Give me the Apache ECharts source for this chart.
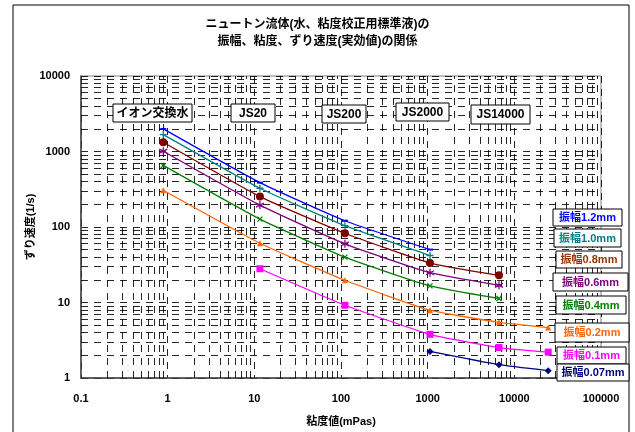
<!DOCTYPE html>
<html>
<head>
<meta charset="utf-8">
<script src="https://cdn.jsdelivr.net/npm/echarts@6/dist/echarts.min.js"></script>
<style>
  html, body { margin: 0; padding: 0; background: #fff; }
  #chart { width: 635px; height: 432px; }
</style>
</head>
<body>
<div id="chart"></div>
<script>
// Viscosity of each sample fluid (mPa·s), x axis
const viscosity = [0.89, 11.6, 111, 1064, 6650, 24600];
const sampleNames = ['イオン交換水', 'JS20', 'JS200', 'JS2000', 'JS14000'];

// Effective shear rate (1/s) for each vibration amplitude
const amp12 = [1990, 387, 121, 50.2, null, null];
const amp10 = [1674, 326, 104, 41.9, null, null];
const amp08 = [1326, 253, 82.6, 33.3, 22.9, null];
const amp06 = [1009, 195, 59.8, 24.8, 16.9, null];
const amp04 = [654, 127, 39.9, 16.6, 11.3, null];
const amp02 = [307, 61, 19.7, 7.9, 5.46, 4.65];
const amp01 = [null, 28, 9.2, 3.79, 2.53, 2.2];
const amp007 = [null, null, null, 2.25, 1.50, 1.25];

const seriesNames = ['振幅1.2mm', '振幅1.0mm', '振幅0.8mm', '振幅0.6mm', '振幅0.4mm', '振幅0.2mm', '振幅0.1mm', '振幅0.07mm'];
const seriesValues = [amp12, amp10, amp08, amp06, amp04, amp02, amp01, amp007];
const lineColors = ['#0000FF', '#008080', '#800000', '#800080', '#008000', '#FF6600', '#FF00FF', '#000080'];
const labelColors = ['#0000FF', '#008080', '#993300', '#800080', '#008000', '#FF6600', '#FF00FF', '#000080'];

const xTicks = [0.1, 1, 10, 100, 1000, 10000, 100000];
const yTicks = [1, 10, 100, 1000, 10000];

// Latin glyphs from Liberation Sans, Japanese glyphs fall back to Noto Sans CJK JP
const FONT = '"Liberation Sans", Arial, "Noto Sans CJK JP", sans-serif';

// marker shapes per series
const markers = [
  { symbol: 'rect', size: [6, 2], fill: true },
  { symbol: 'path://M5,0L5,10M0,5L10,5', size: 7, fill: false },
  { symbol: 'circle', size: 8, fill: true },
  { symbol: 'path://M5,0L5,10M0.7,2.5L9.3,7.5M0.7,7.5L9.3,2.5', size: 8, fill: false },
  { symbol: 'path://M0,0L10,10M0,10L10,0', size: 5, fill: false },
  { symbol: 'triangle', size: 6, fill: true },
  { symbol: 'rect', size: 7, fill: true },
  { symbol: 'diamond', size: 7, fill: true }
];

// minor grid positions (2..9 × 10^k) for the log axes
function minorValues(lo, hi) {
  const out = [];
  for (let e = lo; e < hi; e++) {
    for (let m = 2; m <= 9; m++) out.push(+(m * Math.pow(10, e)).toPrecision(3));
  }
  return out;
}

const gridDash = [7, 6];
const gridLineStyle = { color: '#000', width: 1, type: gridDash, opacity: 0.85 };

const dataSeries = seriesValues.map((vals, i) => {
  const m = markers[i];
  return {
    name: seriesNames[i],
    type: 'line',
    z: 5,
    data: viscosity.map((v, k) => vals[k] == null ? null : [v, vals[k]]).filter(p => p),
    smooth: 0.15,
    symbol: m.symbol,
    symbolSize: m.size,
    showAllSymbol: true,
    lineStyle: { color: lineColors[i], width: 1.3 },
    itemStyle: {
      color: m.fill ? lineColors[i] : 'none',
      borderColor: lineColors[i],
      borderWidth: m.fill ? 0 : 1.3
    },
    emphasis: { disabled: true },
    animation: false
  };
});

const gridSeries = {
  type: 'line',
  data: [],
  z: 1,
  silent: true,
  animation: false,
  markLine: {
    silent: true,
    animation: false,
    symbol: ['none', 'none'],
    label: { show: false },
    lineStyle: gridLineStyle,
    emphasis: { disabled: true },
    data: minorValues(-1, 5).map(v => ({ xAxis: v }))
      .concat(minorValues(0, 4).map(v => ({ yAxis: v })))
  }
};

// white text boxes with a thin black frame
function boxText(left, top, w, h, text, color, size) {
  return {
    type: 'group',
    x: left, y: top,
    z: 100,
    children: [
      { type: 'rect', z: 100, shape: { x: 0, y: 0, width: w, height: h },
        style: { fill: '#fff', stroke: '#000', lineWidth: 1 } },
      { type: 'text', z: 101, x: w / 2, y: h / 2 + 0.5,
        style: { text: text, fill: color, font: 'bold ' + size + 'px ' + FONT,
                 align: 'center', verticalAlign: 'middle' } }
    ]
  };
}

const sampleBoxes = [
  [113, 104, 79, 18],
  [231, 104, 44, 18],
  [322, 105, 44, 18],
  [396, 103, 53, 18],
  [471, 105, 59, 19]
];
const legendBoxes = [
  [553, 209, 69, 17],
  [554, 229, 67, 18],
  [556, 251, 66, 17],
  [553, 273, 75, 18],
  [556, 296, 70, 18],
  [555, 323, 74, 19],
  [557, 347, 69, 17],
  [557, 364, 72, 17]
];

const graphics = [
  { type: 'rect', x: 13, y: 5, z: 0,
    shape: { x: 0, y: 0, width: 616, height: 440 },
    style: { fill: 'none', stroke: '#000', lineWidth: 1 } },
  { type: 'text', left: 'center', top: 19, z: 100,
    style: { text: 'ニュートン流体(水、粘度校正用標準液)の', font: 'bold 12px ' + FONT, fill: '#000' } },
  { type: 'text', left: 'center', top: 36, z: 100,
    style: { text: '振幅、粘度、ずり速度(実効値)の関係', font: 'bold 12px ' + FONT, fill: '#000' } }
];
sampleBoxes.forEach((b, i) => graphics.push(boxText(b[0], b[1], b[2], b[3], sampleNames[i], '#000', 12)));
legendBoxes.forEach((b, i) => graphics.push(boxText(b[0], b[1], b[2], b[3], seriesNames[i], labelColors[i], 11)));

const chart = echarts.init(document.getElementById('chart'), null, { renderer: 'canvas' });
chart.setOption({
  animation: false,
  backgroundColor: '#fff',
  grid: { left: 81, right: 34, top: 76, bottom: 52, show: true, borderColor: '#808080', borderWidth: 1 },
  xAxis: {
    type: 'log',
    logBase: 10,
    min: xTicks[0],
    max: xTicks[xTicks.length - 1],
    name: '粘度値(mPas)',
    nameLocation: 'middle',
    nameGap: 38,
    nameMoveOverlap: false,
    nameTextStyle: { fontFamily: FONT, fontWeight: 'bold', fontSize: 11, color: '#000' },
    axisLine: { lineStyle: { color: '#404040', width: 1.5 } },
    axisTick: { show: false },
    axisLabel: {
      margin: 15, fontFamily: FONT, fontWeight: 'bold', fontSize: 11, color: '#000',
      formatter: v => { const t = xTicks.find(x => Math.abs(Math.log10(x) - Math.log10(v)) < 1e-6); return t == null ? '' : String(t); }
    },
    splitLine: { show: true, lineStyle: gridLineStyle },
    minorTick: { show: false },
    minorSplitLine: { show: false }
  },
  yAxis: {
    type: 'log',
    logBase: 10,
    min: yTicks[0],
    max: yTicks[yTicks.length - 1],
    name: 'ずり速度(1/s)',
    nameLocation: 'middle',
    nameGap: 45,
    nameRotate: 90,
    nameMoveOverlap: false,
    nameTextStyle: { fontFamily: FONT, fontWeight: 'bold', fontSize: 11, color: '#000' },
    axisLine: { show: true, lineStyle: { color: '#404040', width: 1.5 } },
    axisTick: { show: false },
    axisLabel: {
      margin: 11, fontFamily: FONT, fontWeight: 'bold', fontSize: 11, color: '#000',
      formatter: v => { const t = yTicks.find(y => Math.abs(Math.log10(y) - Math.log10(v)) < 1e-6); return t == null ? '' : String(t); }
    },
    splitLine: { show: true, lineStyle: gridLineStyle }
  },
  series: [gridSeries].concat(dataSeries),
  graphic: graphics
});
</script>
</body>
</html>
